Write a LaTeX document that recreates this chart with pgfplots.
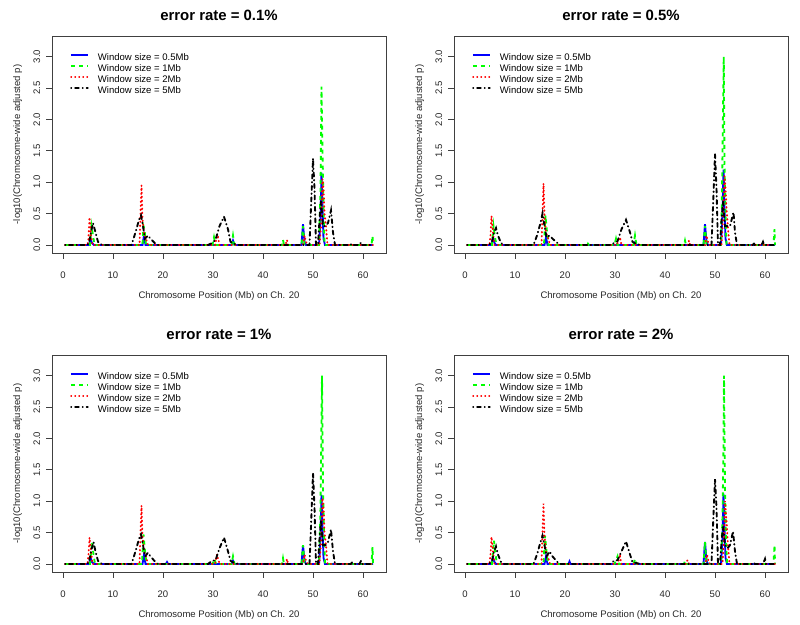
\documentclass[border=0pt]{standalone}
\usepackage{pgfplots}
\pgfplotsset{compat=1.18}
\usepackage{fontspec}
\setmainfont{Liberation Sans}

\newcommand{\basefont}{\fontsize{7.15}{8}\selectfont}

\tikzset{
  s1/.style={color=blue, line width=1.4pt, solid},
  s2/.style={color=green, line width=1.4pt, dash pattern=on 3pt off 3pt},
  s3/.style={color=red, line width=1.4pt, line cap=round, dash pattern=on 0.4pt off 2.6pt},
  s4/.style={color=black, line width=1.4pt, line cap=round, dash pattern=on 0.4pt off 2.6pt on 3pt off 2.6pt},
}

\pgfplotsset{
  every axis title shift=0pt,
  panel/.style={
    scale only axis, width=250.5pt, height=162.75pt,
    xmin=-2.2, xmax=64.6, ymin=-0.128, ymax=3.328,
    axis line style={black!75, line width=0.6pt},
    xtick={0,10,20,30,40,50,60}, ytick={0,0.5,1,1.5,2,2.5,3},
    xtick pos=left, ytick pos=left, tick align=outside,
    major tick length=4.5pt,
    tick style={black!75, line width=0.6pt},
    /pgf/number format/assume math mode=true,
    tick label style={font=\basefont, text=black!85, inner sep=0pt},
    yticklabel style={rotate=90, anchor=south,
      /pgf/number format/.cd, fixed, fixed zerofill, precision=1},
    xticklabel shift=9.5pt, yticklabel shift=4.2pt,
    xlabel={Chromosome Position (Mb) on Ch. 20},
    ylabel={-log10(Chromosome-wide adjusted p)},
    label style={font=\basefont, text=black!85},
    xlabel style={at={(axis description cs:0.5,-0.2)}, anchor=center},
    ylabel style={at={(axis description cs:-0.103,0.5)}, anchor=center},
    title style={font=\bfseries\fontsize{11.2}{13}\selectfont,
      at={(axis description cs:0.5,1.0968)}, anchor=center},
    legend style={draw=none, fill=none, font=\basefont,
      at={(axis description cs:0.054,0.918)}, anchor=north west,
      inner sep=0pt, row sep=1.65pt, column sep=7pt,
      nodes={inner sep=0pt, text height=5.2pt, text depth=1.4pt}},
    legend cell align=left,
    legend image code/.code={\draw[#1, line width=1pt] (0pt,2.5pt) -- (12.75pt,2.5pt);},
  }
}

\begin{document}
\begin{tikzpicture}
\useasboundingbox (0,0) rectangle (600pt,468.75pt);

% error rate 0.1%
\begin{axis}[panel, at={(39pt,279pt)}, anchor=south west, title={error rate = 0.1\%}]
\addplot[s1] coordinates {(0.4,0)(5.2,0)(5.5,0.1)(5.8,0.03)(6.2,0)(15.9,0)(16.2,0.15)(16.5,0)(33.7,0)(34,0.07)(34.3,0)(47.7,0)(48,0.33)(48.3,0.05)(48.6,0)(51.2,0)(51.5,0.4)(51.7,1.15)(51.9,0.6)(52.1,0.1)(52.4,0)(62,0)};
\addplot[s2] coordinates {(0.4,0)(5.4,0)(5.7,0.3)(6,0.15)(6.3,0)(15.9,0)(16.1,0.3)(16.3,0.25)(16.6,0)(24.5,0)(24.6,0.02)(24.8,0)(29.9,0)(30.2,0.12)(30.5,0)(33.7,0)(34,0.15)(34.3,0)(43.8,0)(44,0.08)(44.2,0)(47.7,0)(48,0.3)(48.3,0)(51.2,0)(51.5,0.85)(51.7,2.52)(51.9,1.5)(52.1,0.6)(52.3,0)(61.7,0)(61.9,0.14)(62,0)};
\addplot[s3] coordinates {(0.4,0)(4.9,0)(5.1,0.1)(5.3,0.44)(5.6,0.15)(5.9,0)(15.3,0)(15.5,0.5)(15.7,0.95)(15.9,0.4)(16.2,0.2)(16.6,0.1)(17,0)(30.4,0)(30.7,0.1)(31,0.12)(31.3,0)(44.5,0)(44.8,0.08)(45,0)(48,0)(48.3,0.15)(48.6,0.05)(49,0)(51.3,0)(51.6,0.3)(51.9,1.05)(52.1,0.9)(52.3,0.5)(52.6,0.3)(52.9,0)(62,0)};
\addplot[s4] coordinates {(0.4,0)(4.8,0)(5.2,0.03)(5.6,0.2)(6,0.35)(6.5,0.2)(7,0.05)(7.8,0)(13.7,0)(14.5,0.2)(15.2,0.4)(15.6,0.47)(16,0.3)(16.4,0.1)(17,0.15)(17.5,0.1)(18.5,0.02)(19,0)(29,0)(29.8,0.03)(30.5,0.08)(31.3,0.3)(32.2,0.45)(33,0.25)(33.5,0.05)(34.2,0.02)(35,0)(49.3,0)(49.6,0.6)(50,1.38)(50.3,0.9)(50.6,0)(51,0)(51.3,0.4)(51.6,0.7)(52,0.3)(52.5,0.3)(53,0.35)(53.6,0.55)(54,0.2)(54.4,0)(57.5,0)(57.8,0.02)(58,0)(59.3,0)(59.6,0.04)(59.8,0)(62,0)};
\legend{Window size = 0.5Mb, Window size = 1Mb, Window size = 2Mb, Window size = 5Mb}
\end{axis}

% error rate 0.5%
\begin{axis}[panel, at={(340.5pt,279pt)}, anchor=south west, title={error rate = 0.5\%}]
\addplot[s1] coordinates {(0.4,0)(5.3,0)(5.6,0.12)(5.9,0.03)(6.2,0)(15.9,0)(16.2,0.12)(16.5,0)(33.7,0)(34,0.04)(34.3,0)(47.7,0)(48,0.33)(48.3,0.05)(48.6,0)(51.2,0)(51.5,0.5)(51.7,1.2)(51.9,0.6)(52.1,0.1)(52.4,0)(62,0)};
\addplot[s2] coordinates {(0.4,0)(5.4,0)(5.7,0.3)(6,0.12)(6.3,0)(15.8,0)(16.1,0.47)(16.4,0.2)(16.7,0)(24.5,0)(24.6,0.02)(24.8,0)(29.9,0)(30.2,0.1)(30.5,0)(33.7,0)(34,0.15)(34.3,0)(43.8,0)(44,0.07)(44.2,0)(47.7,0)(48,0.3)(48.3,0)(51.2,0)(51.4,0.85)(51.6,2.1)(51.75,3.0)(51.9,1.3)(52.1,0.5)(52.3,0)(61.7,0)(61.9,0.25)(62,0)};
\addplot[s3] coordinates {(0.4,0)(4.9,0)(5.1,0.15)(5.3,0.46)(5.6,0.2)(5.9,0)(15.3,0)(15.5,0.5)(15.7,0.98)(15.9,0.45)(16.2,0.2)(16.6,0.12)(17,0)(30.4,0)(30.7,0.08)(31,0.12)(31.3,0)(44.5,0)(44.8,0.07)(45,0)(48,0)(48.3,0.15)(48.6,0.05)(49,0)(51.3,0)(51.6,0.4)(51.9,1.1)(52.1,0.9)(52.3,0.6)(52.6,0.25)(52.9,0)(62,0)};
\addplot[s4] coordinates {(0.4,0)(4.8,0)(5.4,0.05)(5.8,0.2)(6.2,0.27)(6.6,0.15)(7.2,0.03)(7.8,0)(13.7,0)(14.4,0.15)(15.1,0.35)(15.5,0.5)(15.9,0.3)(16.3,0.12)(16.9,0.15)(17.5,0.1)(18.5,0.03)(19,0)(29,0)(29.8,0.03)(30.5,0.06)(31.3,0.25)(32.2,0.4)(33,0.2)(33.5,0.05)(34.2,0.02)(35,0)(49.3,0)(49.6,0.6)(50,1.45)(50.3,0.9)(50.6,0)(51,0)(51.3,0.4)(51.6,0.7)(52,0.3)(52.5,0.3)(53,0.3)(53.7,0.52)(54,0.2)(54.4,0)(57.5,0)(57.8,0.02)(58,0)(59.3,0)(59.6,0.05)(59.8,0)(62,0)};
\legend{Window size = 0.5Mb, Window size = 1Mb, Window size = 2Mb, Window size = 5Mb}
\end{axis}

% error rate 1%
\begin{axis}[panel, at={(39pt,39.75pt)}, anchor=south west, title={error rate = 1\%}]
\addplot[s1] coordinates {(0.4,0)(5.2,0)(5.5,0.1)(5.8,0.03)(6.2,0)(15.9,0)(16.2,0.15)(16.5,0)(20.6,0)(20.8,0.03)(21,0)(33.7,0)(34,0.05)(34.3,0)(47.7,0)(48,0.3)(48.3,0.05)(48.6,0)(51.2,0)(51.5,0.4)(51.7,1.1)(51.9,0.6)(52.1,0.1)(52.4,0)(62,0)};
\addplot[s2] coordinates {(0.4,0)(5.4,0)(5.8,0.35)(6.1,0.15)(6.4,0)(15.8,0)(16.1,0.47)(16.4,0.2)(16.7,0)(29.9,0)(30.3,0.08)(30.6,0)(33.7,0)(34,0.12)(34.3,0)(43.8,0)(44,0.09)(44.2,0)(47.7,0)(48,0.3)(48.3,0)(51.2,0)(51.5,0.9)(51.8,3.0)(52,1.2)(52.2,0.5)(52.4,0)(61.7,0)(61.9,0.27)(62,0)};
\addplot[s3] coordinates {(0.4,0)(4.9,0)(5.1,0.15)(5.3,0.42)(5.6,0.2)(5.9,0)(15.3,0)(15.5,0.5)(15.7,0.93)(15.9,0.45)(16.2,0.2)(16.6,0.12)(17,0)(30.4,0)(30.8,0.15)(31.1,0.05)(31.4,0)(44.5,0)(44.8,0.08)(45,0)(48,0)(48.3,0.15)(48.6,0.05)(49,0)(51.3,0)(51.6,0.35)(51.9,1.05)(52.1,0.9)(52.3,0.5)(52.6,0.3)(52.9,0)(62,0)};
\addplot[s4] coordinates {(0.4,0)(4.8,0)(5.2,0.03)(5.6,0.2)(6.1,0.35)(6.5,0.2)(7,0.05)(7.8,0)(13.7,0)(14.5,0.2)(15.2,0.4)(15.6,0.47)(16,0.3)(16.4,0.12)(17,0.18)(17.5,0.12)(18.5,0.03)(19,0)(29,0)(29.8,0.05)(30.5,0.06)(31.3,0.25)(32.2,0.42)(33,0.2)(33.5,0.05)(34.2,0.02)(35,0)(49.3,0)(49.6,0.6)(50,1.45)(50.3,0.9)(50.6,0)(51,0)(51.3,0.4)(51.6,0.7)(52,0.3)(52.5,0.3)(53,0.35)(53.6,0.55)(54,0.2)(54.4,0)(57.5,0)(57.8,0.02)(58,0)(59.3,0)(59.6,0.05)(59.8,0)(62,0)};
\legend{Window size = 0.5Mb, Window size = 1Mb, Window size = 2Mb, Window size = 5Mb}
\end{axis}

% error rate 2%
\begin{axis}[panel, at={(340.5pt,39.75pt)}, anchor=south west, title={error rate = 2\%}]
\addplot[s1] coordinates {(0.4,0)(5.3,0)(5.6,0.1)(5.9,0.03)(6.2,0)(15.9,0)(16.2,0.12)(16.5,0)(20.7,0)(20.9,0.04)(21.1,0)(47.7,0)(48,0.35)(48.3,0.05)(48.6,0)(51.2,0)(51.5,0.4)(51.7,1.12)(51.9,0.6)(52.1,0.1)(52.4,0)(62,0)};
\addplot[s2] coordinates {(0.4,0)(5.4,0)(5.8,0.37)(6.1,0.15)(6.4,0)(15.7,0)(16,0.45)(16.3,0.2)(16.6,0)(29.9,0)(30.5,0.12)(30.8,0)(33.7,0)(34,0.08)(34.3,0)(43.8,0)(44,0.05)(44.2,0)(47.7,0)(48,0.35)(48.3,0)(51.2,0)(51.5,0.75)(51.7,1.9)(51.8,3.0)(52,1.2)(52.2,0.4)(52.4,0)(61.7,0)(61.9,0.3)(62,0)};
\addplot[s3] coordinates {(0.4,0)(4.9,0)(5.1,0.15)(5.3,0.43)(5.6,0.2)(5.9,0)(15.3,0)(15.5,0.5)(15.7,0.96)(15.9,0.45)(16.2,0.2)(16.6,0.12)(17,0)(30.5,0)(30.8,0.08)(31,0.12)(31.3,0)(44.2,0)(44.5,0.06)(44.8,0)(48.1,0)(48.4,0.15)(48.7,0.05)(49,0)(51.5,0)(51.8,0.4)(52,1.0)(52.3,0.7)(52.6,0.3)(52.9,0)(62,0)};
\addplot[s4] coordinates {(0.4,0)(4.8,0)(5.4,0.05)(5.8,0.2)(6.2,0.28)(6.6,0.15)(7.2,0.03)(7.8,0)(13.7,0)(14.4,0.15)(15.1,0.35)(15.5,0.45)(15.9,0.3)(16.3,0.12)(16.9,0.2)(17.5,0.12)(18.5,0.03)(19,0)(29,0)(29.8,0.05)(30.5,0.06)(31.3,0.2)(32.2,0.36)(33,0.15)(33.5,0.03)(35,0)(49.3,0)(49.6,0.6)(50,1.35)(50.3,0.9)(50.6,0)(51,0)(51.3,0.35)(51.6,0.6)(52,0.3)(52.5,0.25)(53,0.3)(53.6,0.52)(54,0.2)(54.4,0)(57.5,0)(57.8,0.02)(58,0)(59.6,0)(60,0.08)(60.2,0)(62,0)};
\legend{Window size = 0.5Mb, Window size = 1Mb, Window size = 2Mb, Window size = 5Mb}
\end{axis}
\end{tikzpicture}
\end{document}
